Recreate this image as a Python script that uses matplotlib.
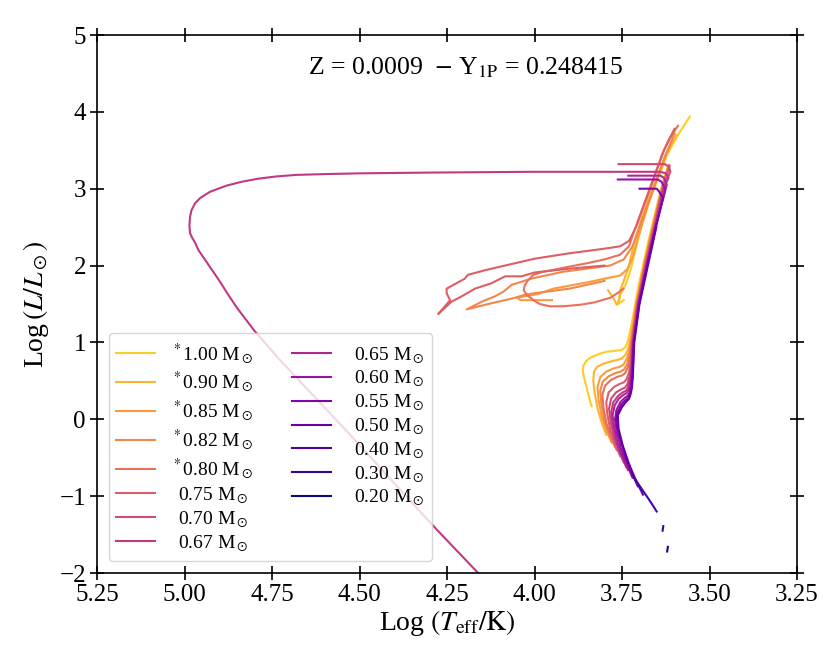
import numpy as np
import matplotlib
matplotlib.use("Agg")
import matplotlib.pyplot as plt

plt.rcParams['font.family'] = ['Liberation Serif', 'DejaVu Serif']
plt.rcParams['mathtext.fontset'] = 'stix'

nan = float('nan')

masses = ["1.00", "0.90", "0.85", "0.82", "0.80", "0.75", "0.70", "0.67",
          "0.65", "0.60", "0.55", "0.50", "0.40", "0.30", "0.20"]
starred = [True, True, True, True, True] + [False] * 10

# ---- tracks: log Teff and log L (segments separated by nan) ----
T_100 = [3.837, 3.846, 3.856, 3.862, 3.860, 3.852, 3.837, 3.815, 3.794, 3.770, 3.751, 3.740,
         3.733, 3.728, 3.720, 3.712, 3.702, 3.690, 3.678, 3.665, 3.652, 3.638, 3.618, nan,
         3.745, 3.760, 3.755, 3.740, 3.725, 3.712, 3.695, 3.675, 3.650, 3.620, 3.590, 3.556]
L_100 = [0.17, 0.32, 0.50, 0.62, 0.70, 0.76, 0.81, 0.85, 0.88, 0.89, 0.90, 0.94,
         1.02, 1.12, 1.30, 1.50, 1.75, 2.00, 2.25, 2.50, 2.75, 3.00, 3.30, nan,
         1.55, 1.50, 1.62, 1.75, 1.95, 2.20, 2.50, 2.80, 3.10, 3.45, 3.70, 3.94]

T_090 = [3.795, 3.808, 3.820, 3.828, 3.832, 3.830, 3.822, 3.805, 3.784, 3.765, 3.751, 3.740,
         3.732, 3.725, 3.710, 3.688, 3.663, 3.637, 3.617, nan,
         3.790, 3.775, 3.765, 3.758, 3.755, 3.745, 3.730, 3.715, 3.695, 3.672, 3.650, 3.628, 3.608, 3.595]
L_090 = [-0.20, -0.04, 0.14, 0.34, 0.50, 0.62, 0.68, 0.72, 0.75, 0.77, 0.79, 0.84,
         0.92, 1.07, 1.50, 2.00, 2.50, 3.00, 3.30, nan,
         1.68, 1.58, 1.49, 1.56, 1.68, 1.80, 2.00, 2.30, 2.60, 2.90, 3.15, 3.40, 3.60, 3.70]

T_085 = [3.780, 3.795, 3.808, 3.817, 3.820, 3.812, 3.795, 3.775, 3.758, 3.746, 3.737, 3.730, 3.724,
         3.709, 3.687, 3.662, 3.636, 3.616, nan,
         3.950, 4.040, 4.050, 3.990, 3.946, 3.851, 3.800, 3.756, 3.735, 3.720, 3.705, 3.685, 3.665,
         3.645, 3.625, 3.605]
L_085 = [-0.30, -0.14, 0.04, 0.25, 0.42, 0.55, 0.62, 0.66, 0.68, 0.71, 0.78, 0.88, 1.05,
         1.50, 2.00, 2.50, 3.00, 3.30, nan,
         1.55, 1.55, 1.58, 1.63, 1.70, 1.78, 1.83, 1.87, 1.95, 2.10, 2.35, 2.65, 2.95,
         3.20, 3.45, 3.62]

T_082 = [3.770, 3.786, 3.800, 3.809, 3.812, 3.805, 3.788, 3.770, 3.754, 3.744, 3.735, 3.728, 3.723,
         3.708, 3.686, 3.661, 3.636, 3.616, nan,
         3.800, 3.900, 4.000, 4.027, 4.065, 4.123, 4.194, 4.151, 4.113, 4.089, 4.065, 4.009, 3.918,
         3.850, 3.784, 3.745, 3.720, 3.700, 3.680, 3.660, 3.640, 3.620, 3.600]
L_082 = [-0.36, -0.20, -0.02, 0.20, 0.37, 0.49, 0.56, 0.60, 0.62, 0.65, 0.72, 0.84, 1.03,
         1.50, 2.00, 2.50, 3.00, 3.30, nan,
         1.80, 1.70, 1.64, 1.62, 1.57, 1.51, 1.43, 1.53, 1.60, 1.66, 1.75, 1.83, 1.92,
         1.96, 2.00, 2.08, 2.25, 2.50, 2.75, 3.00, 3.25, 3.50, 3.72]

T_080 = [3.765, 3.780, 3.794, 3.803, 3.806, 3.798, 3.782, 3.765, 3.750, 3.741, 3.733, 3.727, 3.722,
         3.707, 3.685, 3.660, 3.635, 3.615, nan,
         3.746, 3.760, 3.784, 3.830, 3.870, 3.920, 3.956, 3.985, 4.003, 4.022, 4.031, 4.028, 4.020,
         4.003, 3.975, 3.950, 3.908, 3.850, 3.800, 3.756,
         3.730, 3.715, 3.695, 3.675, 3.655, 3.635, 3.615, 3.590]
L_080 = [-0.40, -0.24, -0.06, 0.15, 0.32, 0.44, 0.51, 0.55, 0.57, 0.60, 0.68, 0.80, 1.01,
         1.50, 2.00, 2.50, 3.00, 3.30, nan,
         1.70, 1.65, 1.58, 1.52, 1.49, 1.47, 1.47, 1.50, 1.55, 1.62, 1.68, 1.74, 1.80,
         1.88, 1.92, 1.94, 1.98, 2.03, 2.08, 2.14,
         2.25, 2.45, 2.70, 2.95, 3.20, 3.45, 3.65, 3.82]

T_075 = [3.755, 3.770, 3.784, 3.792, 3.795, 3.788, 3.773, 3.757, 3.745, 3.737, 3.730, 3.725, 3.721,
         3.706, 3.684, 3.659, 3.634, 3.614, nan,
         3.800, 3.900, 4.000, 4.037, 4.084, 4.123, 4.170, 4.208, 4.237, 4.275, 4.256, 4.241, 4.251,
         4.251, 4.223, 4.199, 4.190, 4.141, 4.075, 3.999, 3.900, 3.800, 3.756, 3.730, 3.710, 3.690,
         3.670, 3.650, 3.630, 3.600]
L_075 = [-0.48, -0.32, -0.13, 0.07, 0.22, 0.35, 0.42, 0.46, 0.48, 0.52, 0.61, 0.75, 1.00,
         1.50, 2.00, 2.50, 3.00, 3.30, nan,
         2.00, 1.96, 1.91, 1.86, 1.86, 1.77, 1.70, 1.60, 1.53, 1.37, 1.47, 1.55, 1.64,
         1.70, 1.77, 1.83, 1.88, 1.94, 2.01, 2.09, 2.16, 2.22, 2.25, 2.32, 2.50, 2.75,
         3.00, 3.25, 3.50, 3.78]

T_070 = [3.745, 3.760, 3.774, 3.783, 3.787, 3.781, 3.767, 3.752, 3.742, 3.735, 3.729, 3.724, 3.720,
         3.705, 3.682, 3.657, 3.632, 3.612, 3.615, 3.627, 3.650, 3.700, 3.760]
L_070 = [-0.56, -0.40, -0.22, -0.02, 0.14, 0.27, 0.35, 0.39, 0.41, 0.45, 0.55, 0.70, 1.00,
         1.50, 2.00, 2.50, 3.00, 3.22, 3.28, 3.32, 3.32, 3.32, 3.32]

T_067 = [3.738, 3.753, 3.767, 3.777, 3.781, 3.775, 3.762, 3.748, 3.739, 3.733, 3.727, 3.723, 3.719,
         3.704, 3.681, 3.656, 3.632, 3.617, 3.625, 3.641, 3.700, 3.800, 4.000, 4.300, 4.500, 4.600,
         4.680, 4.737, 4.790, 4.837, 4.880, 4.927, 4.955, 4.970, 4.980, 4.984, 4.986, 4.984, 4.979,
         4.970, 4.960, 4.930, 4.900, 4.875, 4.850, 4.800, 4.727, 4.527, 4.327, 4.270, 4.161, 4.100]
L_067 = [-0.62, -0.46, -0.28, -0.07, 0.09, 0.22, 0.30, 0.35, 0.37, 0.41, 0.51, 0.67, 1.00,
         1.50, 2.00, 2.50, 3.00, 3.14, 3.20, 3.22, 3.22, 3.22, 3.22, 3.21, 3.20, 3.19,
         3.18, 3.16, 3.13, 3.09, 3.04, 2.96, 2.88, 2.81, 2.72, 2.64, 2.52, 2.42, 2.37,
         2.30, 2.20, 2.00, 1.80, 1.62, 1.45, 1.15, 0.77, -0.20, -1.20, -1.48, -2.00, -2.30]

T_065 = [3.733, 3.748, 3.762, 3.772, 3.777, 3.771, 3.759, 3.745, 3.737, 3.731, 3.726, 3.722, 3.718,
         3.703, 3.680, 3.655, 3.628, 3.622, 3.630, 3.640, 3.680, 3.732]
L_065 = [-0.66, -0.50, -0.32, -0.11, 0.05, 0.18, 0.27, 0.32, 0.34, 0.38, 0.48, 0.64, 1.00,
         1.50, 2.00, 2.50, 2.95, 3.05, 3.14, 3.17, 3.17, 3.17]

T_060 = [3.720, 3.737, 3.753, 3.765, 3.770, 3.766, 3.755, 3.742, 3.735, 3.729, 3.724, 3.721, 3.717,
         3.702, 3.679, 3.654, 3.630, 3.627, 3.637, 3.648, 3.700, 3.762]
L_060 = [-0.76, -0.58, -0.38, -0.16, 0.00, 0.12, 0.22, 0.28, 0.30, 0.34, 0.44, 0.60, 1.00,
         1.50, 2.00, 2.50, 2.92, 3.00, 3.09, 3.12, 3.12, 3.12]

T_055 = [3.705, 3.724, 3.742, 3.757, 3.766, 3.764, 3.752, 3.740, 3.733, 3.728, 3.723, 3.720, 3.716,
         3.701, 3.678, 3.653, 3.633, 3.645, 3.651, 3.700]
L_055 = [-0.87, -0.68, -0.46, -0.22, -0.04, 0.08, 0.19, 0.25, 0.27, 0.31, 0.41, 0.57, 1.00,
         1.50, 2.00, 2.50, 2.88, 2.97, 3.00, 3.00]

T_050 = [3.690, 3.710, 3.730, 3.748, 3.760, 3.762, 3.750, 3.738, 3.731, 3.727, 3.722, 3.719, 3.715,
         3.700, 3.676, 3.652]
L_050 = [-0.98, -0.80, -0.58, -0.34, -0.12, 0.05, 0.16, 0.23, 0.26, 0.30, 0.40, 0.56, 1.00,
         1.50, 2.00, 2.50]

T_040 = [3.651, 3.662, 3.675, 3.690, 3.705, 3.720]
L_040 = [-1.20, -1.12, -1.03, -0.93, -0.83, -0.72]

T_030 = [3.634, 3.632]
L_030 = [-1.45, -1.39]

T_020 = [3.621, 3.619]
L_020 = [-1.72, -1.66]

tracks_T = [T_100, T_090, T_085, T_082, T_080, T_075, T_070, T_067,
            T_065, T_060, T_055, T_050, T_040, T_030, T_020]
tracks_L = [L_100, L_090, L_085, L_082, L_080, L_075, L_070, L_067,
            L_065, L_060, L_055, L_050, L_040, L_030, L_020]

colors = plt.cm.plasma(np.linspace(0.9, 0.0, len(masses)))

fig = plt.figure(figsize=(8.3, 6.64), dpi=100)
ax = fig.add_axes([97/830, 1 - 573/664, 700/830, 538/664])

for m, st, T, L, c in zip(masses, starred, tracks_T, tracks_L, colors):
    if st:
        lab = r"$^*$" + m + r" M$_\odot$"
    else:
        lab = r"$\ \,$" + m + r" M$_\odot$"
    ax.plot(T, L, color=c, lw=1.5, label=lab, solid_joinstyle='round')

ax.set_xlim(5.25, 3.25)
ax.set_ylim(-2, 5)
ax.set_xticks(np.arange(3.25, 5.26, 0.25))
ax.set_xticklabels(["3.25", "3.50", "3.75", "4.00", "4.25", "4.50", "4.75", "5.00", "5.25"])
ax.set_yticks(np.arange(-2, 6, 1))
ax.tick_params(direction='inout', length=10, width=1.2, top=True, right=True,
               labelsize=18, pad=3)
for s in ax.spines.values():
    s.set_linewidth(1.2)

ax.set_xlabel(r"Log $(T_{\rm eff}/{\rm K})$", fontsize=20, labelpad=1)
ax.set_ylabel(r"Log$\,(L/L_\odot)$", fontsize=20, labelpad=6)

ax.text(0.526, 0.939, r"Z = 0.0009  $-$ Y$_{\rm 1P}$ = 0.248415",
        transform=ax.transAxes, ha='center', va='center', fontsize=18.5)

ax.legend(ncol=2, loc='lower left', fontsize=14, handlelength=2.0,
          handletextpad=0.8, columnspacing=2.0, labelspacing=0.18,
          frameon=True, borderaxespad=0.6)

fig.savefig("out.png", dpi=100)
